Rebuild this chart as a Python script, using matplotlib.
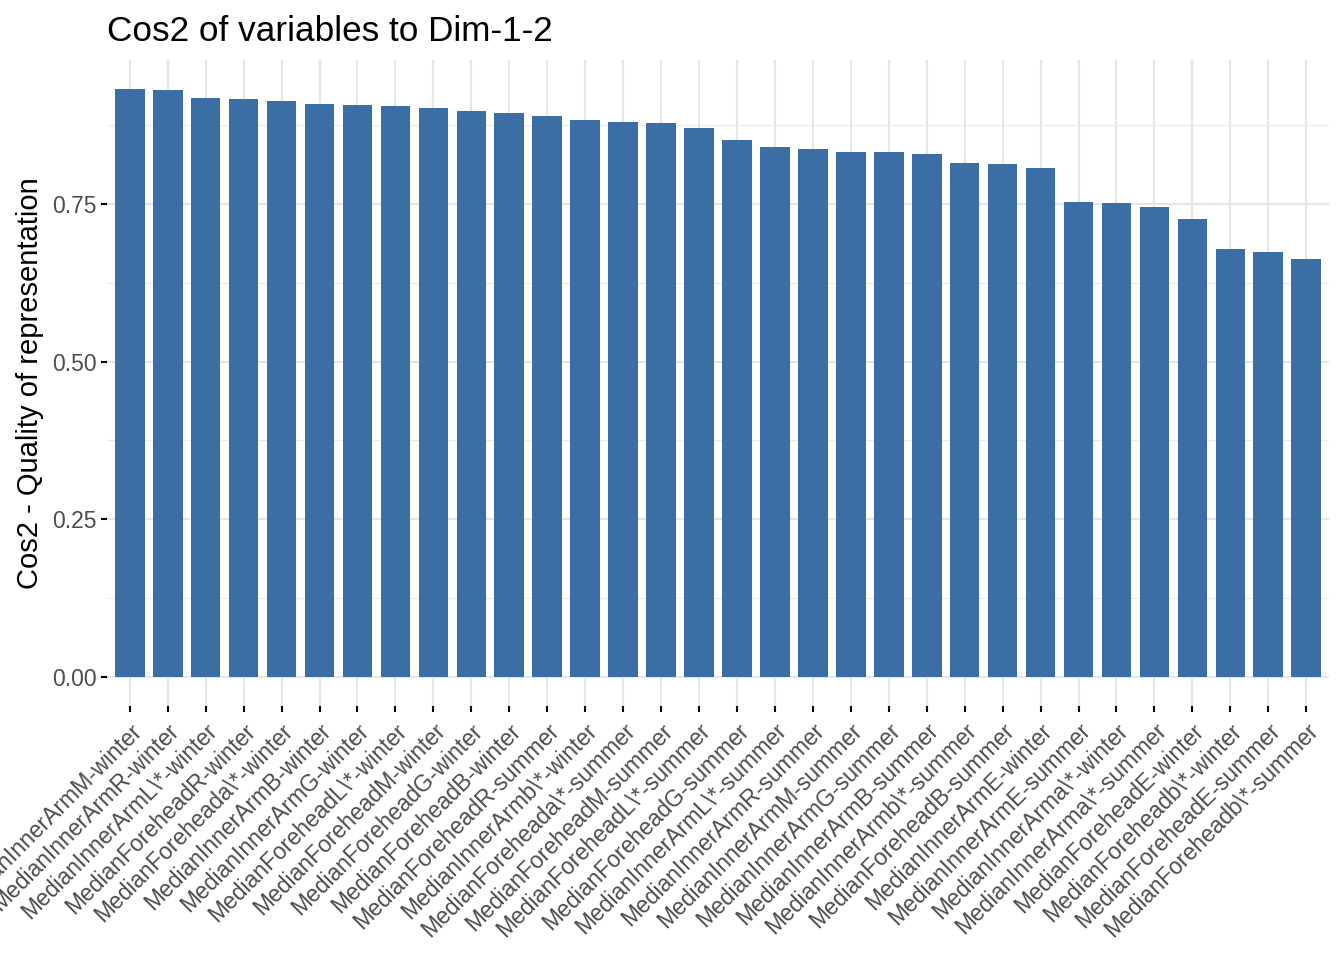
import matplotlib.pyplot as plt
import numpy as np

# variables sorted by cos2 (Dim 1-2)
variables = [
    'MedianInnerArmM-winter', 'MedianInnerArmR-winter', 'MedianInnerArmL\\*-winter',
    'MedianForeheadR-winter', 'MedianForeheada\\*-winter', 'MedianInnerArmB-winter',
    'MedianInnerArmG-winter', 'MedianForeheadL\\*-winter', 'MedianForeheadM-winter',
    'MedianForeheadG-winter', 'MedianForeheadB-winter', 'MedianForeheadR-summer',
    'MedianInnerArmb\\*-winter', 'MedianForeheada\\*-summer', 'MedianForeheadM-summer',
    'MedianForeheadL\\*-summer', 'MedianForeheadG-summer', 'MedianInnerArmL\\*-summer',
    'MedianInnerArmR-summer', 'MedianInnerArmM-summer', 'MedianInnerArmG-summer',
    'MedianInnerArmB-summer', 'MedianInnerArmb\\*-summer', 'MedianForeheadB-summer',
    'MedianInnerArmE-winter', 'MedianInnerArmE-summer', 'MedianInnerArma\\*-winter',
    'MedianInnerArma\\*-summer', 'MedianForeheadE-winter', 'MedianForeheadb\\*-winter',
    'MedianForeheadE-summer', 'MedianForeheadb\\*-summer',
]
cos2 = [
    0.932, 0.931, 0.918, 0.916, 0.914, 0.908, 0.907, 0.906,
    0.902, 0.898, 0.894, 0.889, 0.884, 0.880, 0.878, 0.870,
    0.851, 0.840, 0.838, 0.832, 0.832, 0.830, 0.815, 0.814,
    0.807, 0.754, 0.751, 0.746, 0.726, 0.678, 0.674, 0.662,
]
yticks = [0.00, 0.25, 0.50, 0.75]
yticklabels = ['0.00', '0.25', '0.50', '0.75']

plt.rcParams['font.family'] = ['Liberation Sans', 'DejaVu Sans']

fig = plt.figure(figsize=(13.44, 9.6), dpi=100)
ax = fig.add_axes([107/1344, 1 - 706/960, (1329-107)/1344, (706-60)/960])

x = np.arange(len(variables))
ax.bar(x, cos2, width=0.78, color='#3A6EA5', zorder=3)

top = max(cos2)
ax.set_ylim(-0.05 * top, top * 1.05)
ax.set_xlim(-0.6, len(variables) - 0.4)

ax.set_yticks(yticks)
ax.set_yticklabels(yticklabels)
ax.set_yticks([0.125, 0.375, 0.625, 0.875], minor=True)
ax.set_xticks(x)
ax.set_xticklabels(variables, rotation=45, ha='right', va='top', rotation_mode='anchor')

for s in ax.spines.values():
    s.set_visible(False)

ax.grid(which='major', color='#E6E6E6', linewidth=1.5, zorder=0)
ax.grid(which='minor', axis='y', color='#EBEBEB', linewidth=0.8, zorder=0)
ax.tick_params(which='major', length=4.5, width=1.5, color='black',
               labelcolor='#4D4D4D', labelsize=16.5, pad=3)
ax.tick_params(axis='x', pad=5)
ax.tick_params(which='minor', length=0)
ax.set_axisbelow(True)

ax.set_ylabel('Cos2 - Quality of representation', fontsize=21, labelpad=6)
ax.set_title('Cos2 of variables to Dim-1-2', fontsize=25.3, loc='left', pad=14)

fig.savefig('out.png', dpi=100)
